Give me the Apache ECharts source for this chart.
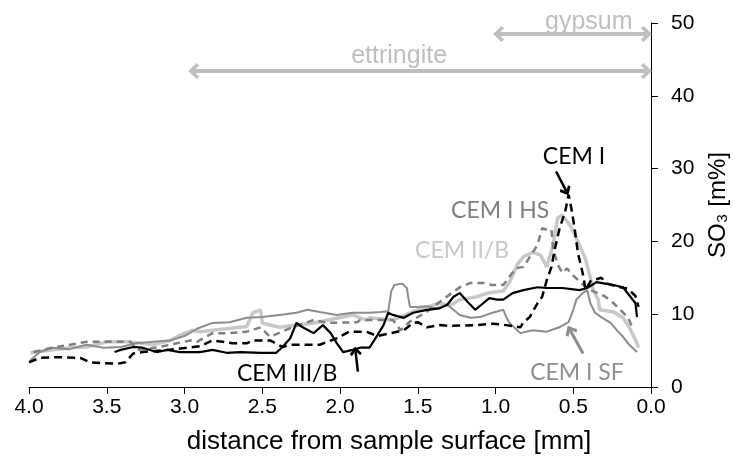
<!DOCTYPE html>
<html>
<head>
<meta charset="utf-8">
<script src="https://cdn.jsdelivr.net/npm/echarts@6/dist/echarts.min.js"></script>
<style>html,body{margin:0;padding:0;background:#fff}#c{width:733px;height:462px}</style>
</head>
<body>
<div id="c"></div>
<script>
// x: distance from sample surface [mm], y: SO3 [m%]
const xTicks = ['4.0','3.5','3.0','2.5','2.0','1.5','1.0','0.5','0.0'];
const cemI = [[4.00,3.4],[3.93,4.0],[3.80,4.1],[3.67,4.0],[3.61,3.4],[3.54,3.3],[3.43,3.2],[3.38,3.4],[3.33,4.6],[3.27,4.8],[3.11,5.1],[2.98,5.4],[2.90,5.6],[2.82,6.4],[2.69,6.0],[2.60,6.0],[2.56,6.4],[2.45,6.4],[2.37,5.5],[2.32,5.8],[2.13,5.8],[2.02,6.7],[1.94,7.6],[1.83,7.6],[1.76,7.0],[1.67,7.4],[1.59,7.8],[1.53,8.8],[1.50,8.9],[1.44,8.2],[1.36,8.5],[1.29,8.4],[1.12,8.5],[1.02,8.7],[0.93,8.5],[0.84,8.2],[0.82,8.9],[0.78,9.6],[0.73,11.5],[0.70,12.4],[0.67,14.7],[0.64,16.5],[0.62,18.8],[0.59,21.6],[0.55,24.3],[0.53,26.4],[0.51,24.3],[0.49,21.6],[0.47,18.4],[0.44,15.7],[0.42,13.3],[0.39,14.5],[0.35,14.8],[0.32,15.0],[0.28,14.2],[0.22,13.8],[0.15,13.5],[0.10,12.5],[0.08,11.0]];
const cemIHS = [[3.97,4.8],[3.85,5.4],[3.63,6.2],[3.35,6.2],[3.29,5.1],[3.16,5.5],[3.05,6.0],[2.96,6.4],[2.92,6.2],[2.82,7.4],[2.71,7.4],[2.60,7.6],[2.51,8.2],[2.45,6.9],[2.32,8.1],[2.17,9.2],[2.08,8.8],[1.89,8.9],[1.87,9.2],[1.66,9.2],[1.61,7.8],[1.55,9.0],[1.45,10.2],[1.34,12.0],[1.23,13.7],[1.16,14.3],[1.08,14.3],[1.02,14.0],[0.95,14.0],[0.87,16.3],[0.82,16.5],[0.73,19.5],[0.70,21.8],[0.67,21.6],[0.64,21.6],[0.63,19.1],[0.60,16.8],[0.57,15.7],[0.54,16.3],[0.51,15.5],[0.46,14.5],[0.41,13.5],[0.30,12.5],[0.24,11.5],[0.15,9.6],[0.12,8.2]];
const cemIIB = [[3.99,4.7],[3.74,5.4],[3.63,5.5],[3.50,6.2],[3.35,6.2],[3.20,5.8],[3.09,6.4],[3.03,7.1],[2.95,7.8],[2.90,7.6],[2.82,7.8],[2.60,8.3],[2.56,10.2],[2.51,10.6],[2.50,8.8],[2.39,8.2],[2.17,8.8],[1.92,9.9],[1.83,9.2],[1.81,9.5],[1.66,9.2],[1.50,10.6],[1.44,11.0],[1.36,11.5],[1.29,11.2],[1.23,12.0],[1.12,12.4],[1.05,12.9],[0.95,13.2],[0.91,14.4],[0.86,16.8],[0.82,17.9],[0.76,18.5],[0.71,18.1],[0.67,16.5],[0.63,19.5],[0.60,23.2],[0.57,23.6],[0.52,22.2],[0.46,19.5],[0.42,17.5],[0.37,13.3],[0.34,12.0],[0.33,10.6],[0.24,10.3],[0.18,9.5],[0.14,8.2],[0.10,6.5],[0.08,5.4]];
const cemISF = [[3.99,3.7],[3.93,4.8],[3.85,5.4],[3.74,5.2],[3.63,5.8],[3.52,5.4],[3.41,5.5],[3.31,6.0],[3.20,6.2],[3.09,6.4],[3.00,7.0],[2.92,8.0],[2.82,8.8],[2.71,8.9],[2.60,9.5],[2.50,9.6],[2.39,9.9],[2.28,10.2],[2.21,10.6],[2.13,10.3],[2.02,9.9],[1.92,10.2],[1.81,10.2],[1.74,10.3],[1.69,10.4],[1.67,13.2],[1.65,14.0],[1.60,14.2],[1.57,13.6],[1.56,12.2],[1.55,11.0],[1.50,11.0],[1.44,11.1],[1.38,10.8],[1.31,11.3],[1.27,10.6],[1.23,9.9],[1.16,9.5],[1.10,9.6],[1.02,10.2],[0.95,10.6],[0.93,9.6],[0.91,8.8],[0.84,7.4],[0.76,7.8],[0.67,7.6],[0.59,8.2],[0.53,8.9],[0.50,10.6],[0.48,12.0],[0.44,12.9],[0.41,13.3],[0.39,11.5],[0.36,10.2],[0.32,9.6],[0.26,8.8],[0.22,7.8],[0.18,6.9],[0.14,5.8],[0.09,4.8]];
const cemIIIB = [[3.45,4.8],[3.41,5.1],[3.33,5.5],[3.27,5.4],[3.18,4.8],[3.11,5.1],[3.03,4.8],[2.90,4.8],[2.82,5.1],[2.73,4.7],[2.64,4.8],[2.51,4.7],[2.41,4.7],[2.37,5.5],[2.32,6.7],[2.28,8.8],[2.24,8.2],[2.17,7.4],[2.11,8.5],[2.06,7.4],[2.02,6.0],[1.98,4.8],[1.92,5.1],[1.87,5.4],[1.81,5.4],[1.76,7.1],[1.72,8.5],[1.69,10.2],[1.66,9.9],[1.59,9.5],[1.53,10.2],[1.44,10.6],[1.36,10.8],[1.31,11.3],[1.27,12.4],[1.23,12.9],[1.18,11.7],[1.13,10.6],[1.08,11.5],[1.04,12.2],[0.99,12.0],[0.95,12.0],[0.89,12.9],[0.82,13.3],[0.73,13.7],[0.67,13.6],[0.57,13.6],[0.46,13.3],[0.41,13.6],[0.35,14.4],[0.24,14.0],[0.18,13.7],[0.14,12.6],[0.10,11.5],[0.09,9.6]];
// annotation ranges [from, to, level]
const gypsumRange = [0.98, 0.03, 48.5];
const ettringiteRange = [2.94, 0.03, 43.4];
// annotation texts [label, x, y]
const labelTexts = [['CEM I',0.495,31.6],['CEM I HS',0.97,24.2],['CEM II/B',1.215,18.8],['CEM I SF',0.476,2.0],['CEM III/B',2.34,1.8],['gypsum',0.40,49.8],['ettringite',1.62,45.5]];
// pointer arrows [from, to]
const ptrCEMI = [[0.61,29.6],[0.545,26.9]];
const ptrCEMIIIB = [[1.885,2.1],[1.90,4.9]];
const ptrCEMISF = [[0.437,4.6],[0.52,7.8]];

const chevron = 'path://M0,0 L10,9 L7,12 L0,5.5 L-7,12 L-10,9 Z';
const labelColors = {'CEM I':'#000000','CEM I HS':'#7f7f7f','CEM II/B':'#c8c8c8','CEM I SF':'#8f8f8f','CEM III/B':'#000000','gypsum':'#bfbfbf','ettringite':'#bfbfbf'};

const chart = echarts.init(document.getElementById('c'));
const axisFont = '"Liberation Sans", Arial, sans-serif';
chart.setOption({
  animation: false,
  grid: {left: 29, right: 82, top: 23, bottom: 75, containLabel: false, outerBoundsMode: 'none'},
  xAxis: {
    type: 'value', min: 0, max: 4, interval: 0.5, inverse: true,
    axisLine: {show: true, onZero: false, lineStyle: {color: '#000', width: 1}},
    axisTick: {show: true, length: 7, lineStyle: {color: '#000'}},
    axisLabel: {color: '#000', fontSize: 21, fontFamily: axisFont, margin: 10,
      formatter: v => xTicks[Math.round((4 - v) / 0.5)]},
    splitLine: {show: false},
    name: 'distance from sample surface [mm]', nameLocation: 'middle', nameGap: 42,
    nameTextStyle: {color: '#000', fontSize: 26, fontFamily: axisFont, padding: [0, 0, 0, 98]}
  },
  yAxis: {
    type: 'value', min: 0, max: 50, interval: 10, position: 'right',
    axisLine: {show: true, lineStyle: {color: '#000', width: 1}},
    axisTick: {show: true, length: 7, lineStyle: {color: '#000'}},
    axisLabel: {color: '#000', fontSize: 21, fontFamily: axisFont, margin: 20},
    splitLine: {show: false},
    name: 'SO₃ [m%]', nameLocation: 'middle', nameGap: 55, nameRotate: 90,
    nameTextStyle: {color: '#000', fontSize: 24, fontFamily: axisFont, padding: [0, 0, 24, 0]}
  },
  series: [
    {name: 'CEM II/B', type: 'line', data: cemIIB, showSymbol: false, symbol: 'none',
      lineStyle: {color: '#c8c8c8', width: 3.5}},
    {name: 'CEM I SF', type: 'line', data: cemISF, showSymbol: false, symbol: 'none',
      lineStyle: {color: '#8c8c8c', width: 2}},
    {name: 'CEM I HS', type: 'line', data: cemIHS, showSymbol: false, symbol: 'none',
      lineStyle: {color: '#7f7f7f', width: 2.5, type: [7, 5]}},
    {name: 'CEM III/B', type: 'line', data: cemIIIB, showSymbol: false, symbol: 'none',
      lineStyle: {color: '#000', width: 2.2}},
    {name: 'CEM I', type: 'line', data: cemI, showSymbol: false, symbol: 'none',
      lineStyle: {color: '#000', width: 2.5, type: [8, 5]}},
    {name: 'annotations', type: 'line', data: [], silent: true,
      markLine: {
        silent: true, animation: false, label: {show: false},
        data: [
          [{coord: [gypsumRange[0], gypsumRange[2]], symbol: chevron, symbolSize: [16, 11],
            lineStyle: {color: '#bfbfbf', width: 4, type: 'solid'}},
           {coord: [gypsumRange[1], gypsumRange[2]], symbol: chevron, symbolSize: [16, 11]}],
          [{coord: [ettringiteRange[0], ettringiteRange[2]], symbol: chevron, symbolSize: [16, 11],
            lineStyle: {color: '#bfbfbf', width: 4, type: 'solid'}},
           {coord: [ettringiteRange[1], ettringiteRange[2]], symbol: chevron, symbolSize: [16, 11]}],
          [{coord: ptrCEMI[0], symbol: 'none', lineStyle: {color: '#000', width: 2.5, type: 'solid'}},
           {coord: ptrCEMI[1], symbol: chevron, symbolSize: [12, 9]}],
          [{coord: ptrCEMIIIB[0], symbol: 'none', lineStyle: {color: '#000', width: 2.5, type: 'solid'}},
           {coord: ptrCEMIIIB[1], symbol: chevron, symbolSize: [12, 9]}],
          [{coord: ptrCEMISF[0], symbol: 'none', lineStyle: {color: '#8c8c8c', width: 3, type: 'solid'}},
           {coord: ptrCEMISF[1], symbol: chevron, symbolSize: [13, 10]}]
        ]
      },
      markPoint: {
        silent: true, animation: false, symbol: 'circle', symbolSize: 0,
        data: labelTexts.map(t => ({
          name: t[0], coord: [t[1], t[2]],
          label: {show: true, position: 'inside', formatter: '{b}', color: labelColors[t[0]],
            offset: t[0] === 'gypsum' ? [0, -2] : [0, 0],
            fontSize: (t[0] === 'gypsum' || t[0] === 'ettringite') ? 25 : 23,
            fontFamily: (t[0] === 'gypsum' || t[0] === 'ettringite') ? axisFont : 'Lato, "Open Sans", sans-serif'}
        }))
      }
    }
  ]
});
</script>
</body>
</html>
